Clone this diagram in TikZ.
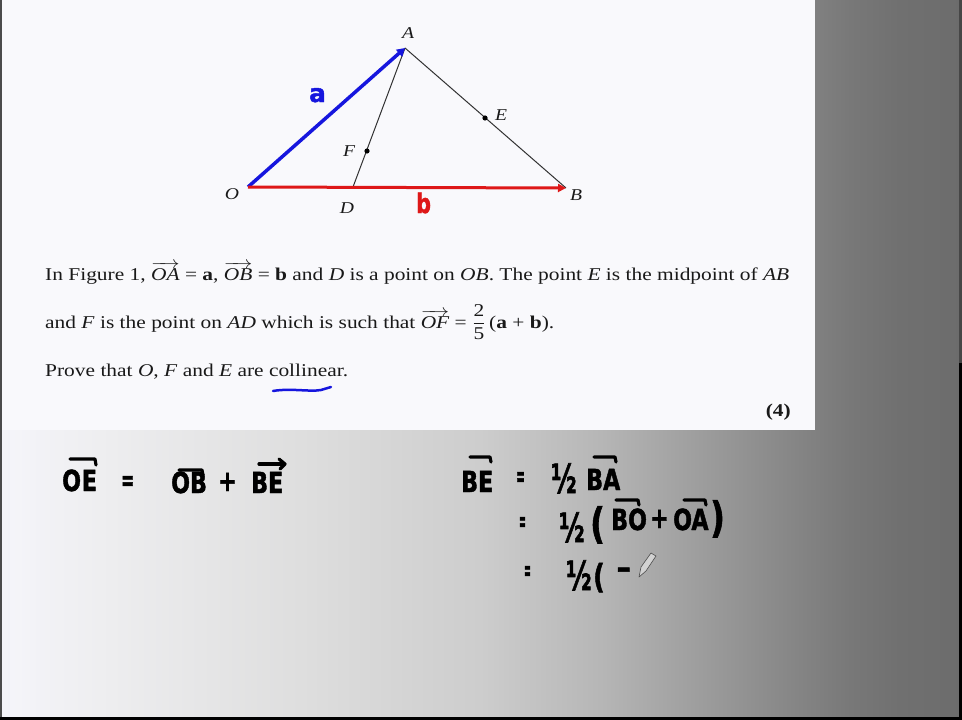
\documentclass[tikz,border=0pt]{standalone}
\usepackage{amsmath}
\usepackage{fontspec}
\setmainfont{Liberation Serif}
\newfontfamily\hand[BoldFeatures={FakeBold=1.6}]{DejaVu Sans Condensed}
\usetikzlibrary{arrows.meta}
\definecolor{panel}{RGB}{249,249,252}
\definecolor{txt}{RGB}{25,25,25}
\definecolor{vblue}{RGB}{22,22,222}
\definecolor{vred}{RGB}{222,24,24}
\definecolor{fig}{RGB}{50,50,50}
\pgfdeclarehorizontalshading{bgshade}{100bp}{%
 rgb(0bp)=(0.961,0.961,0.98);
 rgb(25bp)=(0.961,0.961,0.98);
 rgb(30.2bp)=(0.933,0.933,0.941);
 rgb(40.59bp)=(0.871,0.871,0.871);
 rgb(49.95bp)=(0.804,0.804,0.804);
 rgb(56.19bp)=(0.714,0.714,0.714);
 rgb(61.38bp)=(0.616,0.616,0.616);
 rgb(66.58bp)=(0.518,0.518,0.518);
 rgb(69.18bp)=(0.471,0.471,0.471);
 rgb(71.78bp)=(0.439,0.439,0.439);
 rgb(75bp)=(0.424,0.424,0.424);
 rgb(100bp)=(0.424,0.424,0.424)}
\newcommand{\hwtext}[1]{\scalebox{0.85}[1]{#1}}
\newcommand{\hwhalf}{\scalebox{0.68}[1]{½}}
\newcommand{\bodyscale}[1]{\scalebox{1.19}[1]{#1}}
\tikzset{
  body/.style={anchor=base west, inner sep=0pt, text=txt, font=\fontsize{18}{20}\selectfont},
  lab/.style={inner sep=0pt, text=txt, font=\fontsize{16.5}{18}\selectfont\itshape},
  hw/.style={anchor=base west, inner sep=0pt, text=black, font=\hand\bfseries\fontsize{29}{32}\selectfont},
  hwbig/.style={hw, font=\hand\bfseries\fontsize{40}{44}\selectfont},
  hwparen/.style={hw, font=\hand\bfseries\fontsize{42}{46}\selectfont},
  hwline/.style={line width=3.2pt, line cap=round, line join=round, draw=black},
  vecblue/.style={draw=vblue, line width=3.5pt, -{Triangle[length=8pt,width=9pt]}},
  vecred/.style={draw=vred, line width=3pt, -{Triangle[length=8pt,width=8pt]}},
  thin/.style={draw=fig, line width=1pt},
  pt/.style={fill=black},
}
\begin{document}
\begin{tikzpicture}[x=1pt,y=-1pt]
\useasboundingbox (0,0) rectangle (962,720);
% background
\shade[shading=bgshade] (0,0) rectangle (962,720);
\fill[panel] (0,0) rectangle (815,430);
\fill[gray!60!black] (0,0) rectangle (1.5,720);
\fill[black] (0,717) rectangle (962,720);
\fill[gray!55!black] (959,0) rectangle (962,363);
\fill[black] (959,363) rectangle (962,720);

% figure
\coordinate (O) at (248,187);
\coordinate (A) at (405,48);
\coordinate (B) at (566,188);
\coordinate (D) at (353,187);
\coordinate (F) at (367,151);
\coordinate (E) at (485,118);
\draw[thin] (A) -- (B);
\draw[thin] (A) -- (D);
\draw[vecblue] (O) -- (A);
\draw[vecred] (O) -- (B);
\fill[pt] (E) circle (2.6);
\fill[pt] (F) circle (2.6);
\node[lab] (lA) at (408,33) {\bodyscale{A}};
\node[lab] (lE) at (501,115) {\bodyscale{E}};
\node[lab] (lF) at (349,151) {\bodyscale{F}};
\node[lab] (lO) at (232,194) {\bodyscale{O}};
\node[lab] (lD) at (347,208) {\bodyscale{D}};
\node[lab] (lB) at (576,195) {\bodyscale{B}};
\node[hw, text=vblue, font=\hand\bfseries\fontsize{25}{28}\selectfont] (ha) at (309,102) {\scalebox{1.1}[1]{a}};
\node[hw, text=vred, font=\hand\bfseries\fontsize{27}{30}\selectfont] (hb) at (416,213) {\hwtext{b}};

% problem text
\node[body] (t1) at (45,280) {\bodyscale{In Figure 1, $\overrightarrow{\mbox{\itshape OA}}$ = \textbf{a}, $\overrightarrow{\mbox{\itshape OB}}$ = \textbf{b} and \textit{D} is a point on \textit{OB}.  The point \textit{E} is the midpoint of \textit{AB}}};
\node[body] (t2) at (45,328) {\bodyscale{and \textit{F} is the point on \textit{AD} which is such that $\overrightarrow{\mbox{\itshape OF}}$ = $\dfrac{\mbox{2}}{\mbox{5}}$\,(\textbf{a} + \textbf{b}).}};
\node[body] (t3) at (45,376) {\bodyscale{Prove that \textit{O}, \textit{F} and \textit{E} are collinear.}};
\node[body, anchor=base east] (t4) at (791,416) {\bodyscale{\textbf{(4)}}};
\draw[draw=vblue, line width=2.5pt, line cap=round] (273,391) .. controls (290,388) and (310,392) .. (321,390) -- (331,387);

% handwriting, left
\node[hw] (oe) at (62,491) {\hwtext{O\kern1pt E}};
\draw[hwline] (70,459) -- (95,459) -- (96,465);
\node[hw] (eq1) at (121,490) {\scalebox{0.6}[1]{=}};
\node[hw] (ob) at (171,493) {\hwtext{OB}};
\draw[hwline] (179,470) -- (202,470) -- (203,475);
\node[hw] (pl1) at (218,491) {\hwtext{+}};
\node[hw] (be1) at (251,493) {\hwtext{BE}};
\draw[hwline] (259,464) -- (284,464);
\draw[hwline] (279,459) -- (285,464) -- (280,469);

% handwriting, right
\node[hw] (be2) at (461,492) {\hwtext{BE}};
\draw[hwline] (470,457) -- (490,457) -- (491,462);
\node[hw] (eq2) at (516,486) {\scalebox{0.4}[1]{=}};
\node[hwbig] (h1) at (551,493) {\hwhalf};
\node[hw] (ba) at (586,490) {\hwtext{BA}};
\draw[hwline] (594,457) -- (615,457) -- (616,462);

\node[hw] (eq3) at (519,531) {\scalebox{0.3}[1]{=}};
\node[hwbig] (h2) at (559,542) {\hwhalf};
\node[hwparen] (lp1) at (590,538) {\hwtext{(}};
\node[hw] (bo) at (611,530) {\hwtext{BO}};
\draw[hwline] (616,500) -- (638,500) -- (639,505);
\node[hw] (pl2) at (650,528) {\hwtext{+}};
\node[hw] (oa) at (673,530) {\hwtext{OA}};
\draw[hwline] (684,500) -- (705,500) -- (706,505);
\node[hwparen] (rp1) at (710,532) {\hwtext{)}};

\node[hw] (eq4) at (524,580) {\scalebox{0.3}[1]{=}};
\node[hwbig] (h3) at (566,590) {\hwhalf};
\node[hw, font=\hand\bfseries\fontsize{33}{36}\selectfont] (lp2) at (593,588) {\hwtext{(}};
\node[hw] (mi) at (616,578) {\scalebox{1.4}[1]{-}};
% pen cursor
\draw[fill=gray!35, draw=gray!60!black, line width=0.6pt, line join=round] (639,577) -- (641,567) -- (651,553) -- (656,556) -- (646,571) -- cycle;
\end{tikzpicture}
\end{document}
